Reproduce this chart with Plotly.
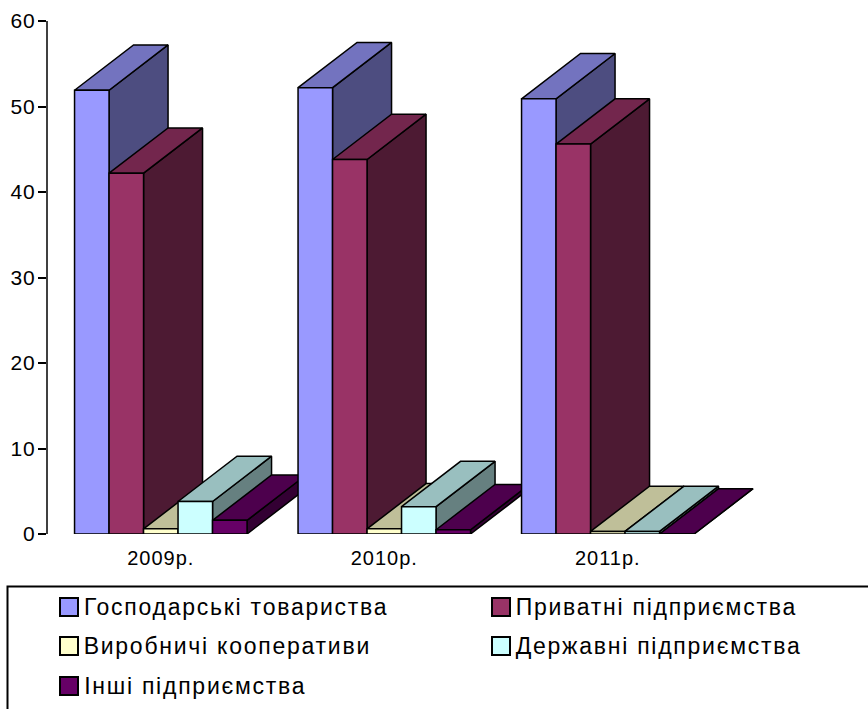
import plotly.graph_objects as go

categories = ["2009р.", "2010р.", "2011р."]
series_names = ["Господарські товариства", "Приватні підприємства", "Виробничі кооперативи",
                "Державні підприємства", "Інші підприємства"]
gospodarski = [51.9, 52.2, 50.9]
pryvatni = [42.2, 43.8, 45.6]
vyrobnychi = [0.6, 0.6, 0.3]
derzhavni = [3.8, 3.2, 0.3]
inshi = [1.6, 0.5, 0.0]
series_values = [gospodarski, pryvatni, vyrobnychi, derzhavni, inshi]
front_colors = ["#9999FF", "#993366", "#FFFFCC", "#CCFFFF", "#660066"]
top_colors = ["#7373BF", "#73264D", "#BFBF99", "#99BFBF", "#4D004D"]
side_colors = ["#4D4D80", "#4D1A33", "#808066", "#668080", "#330033"]

W, H = 868, 709
PX0, PXUNIT = 160.8, 223.5     # pixel of first category centre, pixels per category
Y0, Y60 = 534, 21
BAR = 34.5 / PXUNIT
DX = 59 / PXUNIT
DY = 45.3 / ((Y0 - Y60) / 60)
LW = 1.5
LEG_SPACING = 1.75

fig = go.Figure()
z = 0
for c in range(len(categories)):
    for s in range(len(series_names)):
        v = series_values[s][c]
        x0 = c + (s - 2.5) * BAR
        x1 = x0 + BAR
        line = dict(color="black", width=LW)
        z += 1
        fig.add_trace(go.Scatter(x=[x1, x1 + DX, x1 + DX, x1, x1], y=[0, DY, v + DY, v, 0],
                                 mode="lines", fill="toself", fillcolor=side_colors[s], line=line,
                                 showlegend=False, hoverinfo="skip", cliponaxis=False, zorder=z))
        z += 1
        fig.add_trace(go.Scatter(x=[x0, x1, x1 + DX, x0 + DX, x0], y=[v, v, v + DY, v + DY, v],
                                 mode="lines", fill="toself", fillcolor=top_colors[s], line=line,
                                 showlegend=False, hoverinfo="skip", cliponaxis=False, zorder=z))
        z += 1
        fig.add_trace(go.Bar(x=[(x0 + x1) / 2], y=[v], width=BAR, name=series_names[s],
                             marker=dict(color=front_colors[s], line=line),
                             showlegend=False, cliponaxis=False, zorder=z))

shapes = [dict(type="rect", xref="paper", yref="paper", x0=7.5 / W, x1=1.02, y0=-0.02,
               y1=1 - 586.5 / H, line=dict(color="black", width=2), fillcolor="rgba(0,0,0,0)", layer="above"),
          dict(type="line", xref="paper", yref="y", x0=47 / W, x1=47 / W, y0=0, y1=60,
               line=dict(color="black", width=1.5), layer="above")]
annotations = []
legend_pos = [(60, 607), (492, 607), (60, 646), (492, 646), (60, 686)]
for (lx, ly), name, col in zip(legend_pos, series_names, front_colors):
    shapes.append(dict(type="rect", xref="paper", yref="paper", x0=lx / W, x1=(lx + 18) / W,
                       y0=1 - (ly + 9) / H, y1=1 - (ly - 9) / H, fillcolor=col,
                       line=dict(color="black", width=2)))
    annotations.append(dict(xref="paper", yref="paper", x=(lx + 22) / W, y=1 - ly / H, text=name,
                            showarrow=False, xanchor="left", yanchor="middle",
                            xshift=len(name) * LEG_SPACING / 2,
                            font=dict(size=23, color="black")))

fig.update_layout(
    width=W, height=H, autosize=False, margin=dict(l=0, r=0, t=0, b=0),
    paper_bgcolor="white", plot_bgcolor="white", barmode="overlay", showlegend=False,
    font=dict(family="Liberation Sans, Arial, sans-serif", color="black"),
    xaxis=dict(domain=[47 / W, 1], range=[(47 - PX0) / PXUNIT, (W - PX0) / PXUNIT],
               tickvals=list(range(len(categories))), ticktext=categories, showgrid=False,
               zeroline=False, showline=False, ticks="", tickfont=dict(size=20),
               automargin=False, ticklabelstandoff=10),
    yaxis=dict(domain=[1 - Y0 / H, 1 - Y60 / H], range=[0, 60], dtick=10, showgrid=False,
               zeroline=False, showline=False, automargin=False, ticklabelstandoff=-2,
               ticks="outside", ticklen=8, tickwidth=1.5, tickcolor="black", tickfont=dict(size=21)),
    shapes=shapes, annotations=annotations,
)
post = """
document.body.style.margin = '0';
var st = document.createElement('style');
st.textContent = '.annotation-text{letter-spacing:1.75px} .xtick text,.ytick text{letter-spacing:1px}';
document.head.appendChild(st);
"""
fig.write_html("out.html", post_script=post, config=dict(displayModeBar=False))
